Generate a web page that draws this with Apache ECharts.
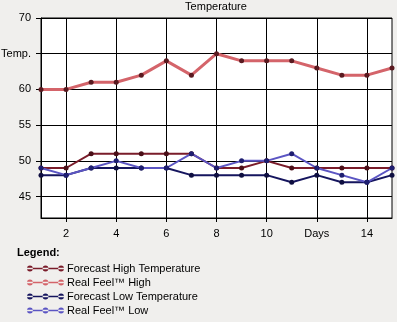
<!DOCTYPE html>
<html><head><meta charset="utf-8">
<script src="https://cdn.jsdelivr.net/npm/echarts@6/dist/echarts.min.js"></script>
<style>html,body{margin:0;padding:0;background:#f0efed;}#c{width:397px;height:322px;}</style>
</head><body><div id="c"></div>
<script>
const days = [1,2,3,4,5,6,7,8,9,10,11,12,13,14,15];
const forecastHigh = [49,49,51,51,51,51,51,49,49,50,49,49,49,49,49];
const realFeelHigh = [60,60,61,61,62,64,62,65,64,64,64,63,62,62,63];
const forecastLow  = [48,48,49,49,49,49,48,48,48,48,47,48,47,47,48];
const realFeelLow  = [49,48,49,50,49,49,51,49,50,50,51,49,48,47,49];
const xTicks = [2,4,6,8,10,12,14];
const yTicks = [45,50,55,60,65,70];
const seriesNames = ['Forecast High Temperature','Real Feel\u2122 High','Forecast Low Temperature','Real Feel\u2122 Low'];

const icon = 'path://M0,2.3L38,2.3L38,3.7L0,3.7Z M0,3a3,3 0 1,0 6,0a3,3 0 1,0 -6,0Z M16,3a3,3 0 1,0 6,0a3,3 0 1,0 -6,0Z M32,3a3,3 0 1,0 6,0a3,3 0 1,0 -6,0Z';
const font = 'Liberation Sans';
function pairs(v){ return days.map((d,i)=>[d,v[i]]); }
function mk(name, data, color, dot, width){
  return {name, type:'line', data:pairs(data), symbol:'circle', symbolSize:5,
    lineStyle:{color, width}, itemStyle:{color:dot, borderWidth:0}, color, animation:false};
}
const chart = echarts.init(document.getElementById('c'));
chart.setOption({
  backgroundColor:'#f0efed',
  animation:false,
  title:[
    {text:'Temperature', left:216, textAlign:'center', top:1, padding:0, textStyle:{fontFamily:font, fontSize:11, fontWeight:'normal', color:'#000'}},
    {text:'Legend:', left:17, top:247, padding:0, textStyle:{fontFamily:font, fontSize:11, fontWeight:'bold', color:'#000'}}
  ],
  grid:{left:41, right:5, top:18, bottom:104, outerBoundsMode:'none', containLabel:false, show:true, backgroundColor:'#fff', borderColor:'#000', borderWidth:1},
  legend:{orient:'vertical', left:27, top:263, width:300, height:60, padding:0, itemWidth:37, itemHeight:6, itemGap:3,
    icon:icon, data:seriesNames.map((n,i)=>({name:n, itemStyle:{color:['#7a1c2a','#d4646a','#15155e','#5b55c3'][i]}})),
    textStyle:{fontFamily:font, fontSize:11, lineHeight:11, color:'#000', padding:[0,0,0,-2]}},
  xAxis:{type:'value', min:1, max:15,
    axisLine:{lineStyle:{color:'#000'}},
    axisTick:{show:true, length:4, customValues:xTicks, lineStyle:{color:'#000'}},
    axisLabel:{customValues:xTicks, fontFamily:font, fontSize:11, color:'#000', margin:10,
      formatter:v=> v===12 ? 'Days' : String(v)},
    splitLine:{show:true, lineStyle:{color:'#000', width:1}}},
  yAxis:{type:'value', min:42, max:70,
    axisLine:{show:true, lineStyle:{color:'#000'}},
    axisTick:{show:true, length:5, customValues:yTicks, lineStyle:{color:'#000'}},
    axisLabel:{customValues:yTicks, fontFamily:font, fontSize:11, color:'#000', margin:10,
      formatter:v=> v===65 ? 'Temp.' : String(v)},
    splitLine:{show:true, lineStyle:{color:'#000', width:1}}},
  series:[
    mk(seriesNames[0], forecastHigh, '#7a1c2a', '#4a0f18', 2),
    mk(seriesNames[1], realFeelHigh, '#d4646a', '#5a1a20', 3),
    mk(seriesNames[2], forecastLow, '#15155e', '#0e0e40', 2),
    mk(seriesNames[3], realFeelLow, '#5b55c3', '#1e1e70', 2)
  ]
});
</script></body></html>
